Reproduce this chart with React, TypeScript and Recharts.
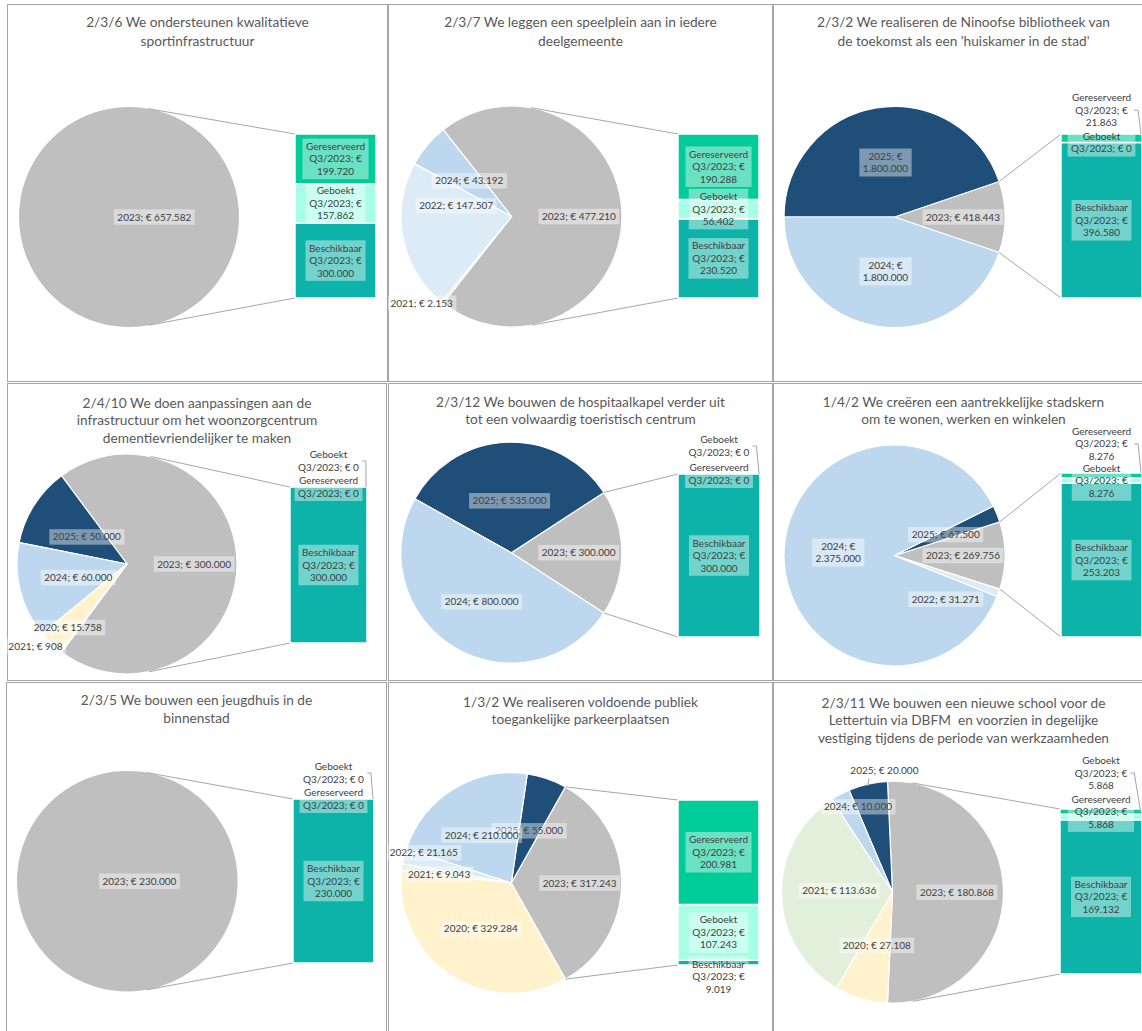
import React from 'react';
import { PieChart, Pie, Cell, BarChart, Bar, XAxis, YAxis, LabelList } from 'recharts';

// ---------------- DATA ----------------
const barSeries = ['Gereserveerd', 'Geboekt', 'Beschikbaar'];
const barPeriod = 'Q3/2023';

const titles: string[][] = [
  ['2/3/6 We ondersteunen kwalitatieve', 'sportinfrastructuur'],
  ['2/3/7 We leggen een speelplein aan in iedere', 'deelgemeente'],
  ['2/3/2 We realiseren de Ninoofse bibliotheek van', "de toekomst als een 'huiskamer in de stad'"],
  ['2/4/10 We doen aanpassingen aan de', 'infrastructuur om het woonzorgcentrum', 'dementievriendelijker te maken'],
  ['2/3/12 We bouwen de hospitaalkapel verder uit', 'tot een volwaardig toeristisch centrum'],
  ['1/4/2 We creëren een aantrekkelijke stadskern', 'om te wonen, werken en winkelen'],
  ['2/3/5 We bouwen een jeugdhuis in de', 'binnenstad'],
  ['1/3/2 We realiseren voldoende publiek', 'toegankelijke parkeerplaatsen'],
  ['2/3/11 We bouwen een nieuwe school voor de', 'Lettertuin via DBFM  en voorzien in degelijke', 'vestiging tijdens de periode van werkzaamheden'],
];

const p1Years = ['2023'];
const p1Values = [657582];
const p1Bar = [199720, 157862, 300000];

const p2Years = ['2023', '2024', '2022', '2021'];
const p2Values = [477210, 43192, 147507, 2153];
const p2Bar = [190288, 56402, 230520];

const p3Years = ['2023', '2025', '2024'];
const p3Values = [418443, 1800000, 1800000];
const p3Bar = [21863, 0, 396580];

const p4Years = ['2023', '2025', '2024', '2020', '2021'];
const p4Values = [300000, 50000, 60000, 15758, 908];
const p4Bar = [0, 0, 300000];

const p5Years = ['2023', '2025', '2024'];
const p5Values = [300000, 535000, 800000];
const p5Bar = [0, 0, 300000];

const p6Years = ['2023', '2025', '2024', '2022'];
const p6Values = [269756, 67500, 2375000, 31271];
const p6Bar = [8276, 8276, 253203];

const p7Years = ['2023'];
const p7Values = [230000];
const p7Bar = [0, 0, 230000];

const p8Years = ['2023', '2025', '2024', '2022', '2021', '2020'];
const p8Values = [317243, 55000, 210000, 21165, 9043, 329284];
const p8Bar = [200981, 107243, 9019];

const p9Years = ['2023', '2025', '2024', '2021', '2020'];
const p9Values = [180868, 20000, 10000, 113636, 27108];
const p9Bar = [5868, 5868, 169132];

// ---------------- STYLE ----------------
const FONT = 'Lato, "Open Sans", sans-serif';
const FS = 10;
const LLH = 12.5;
const TEXT = '#404040';
const YEAR_COLORS: Record<string, string> = {
  '2020': '#FFF2CC',
  '2021': '#E2EFDA',
  '2022': '#DDEBF7',
  '2023': '#BFBFBF',
  '2024': '#BDD7EE',
  '2025': '#1F4E79',
};
const GERES = '#00CC99';
const GEBOEKT = '#A6FFE4';
const BESCH = '#0DB3A9';
const LINE = '#A6A6A6';

type PL = { f: number; a?: number; leader?: boolean };
type BL = { dy?: number; out?: boolean };
interface Layout {
  left: number; top: number; w: number; h: number;
  cx: number; cy: number; r: number;
  barX: number; barW: number; barTop: number; barBottom: number;
  titleY: number; titleLH: number;
  pie: PL[]; bars: BL[];
}

const layouts: Layout[] = [
  { left: 7, top: 4, w: 381, h: 378, cx: 122, cy: 213, r: 110, barX: 288, barW: 81, barTop: 130, barBottom: 294, titleY: 17.7, titleLH: 19,
    pie: [{ f: 0.23 }], bars: [{}, {}, {}] },
  { left: 388, top: 4, w: 385, h: 378, cx: 123.5, cy: 212.5, r: 110.5, barX: 290, barW: 81, barTop: 130, barBottom: 294, titleY: 17.7, titleLH: 19,
    pie: [{ f: 0.61 }, { f: 0.5 }, { f: 0.51, a: 169 }, { f: 1.13, a: 224 }], bars: [{}, {}, {}] },
  { left: 773, top: 4, w: 381, h: 378, cx: 121.5, cy: 213, r: 110.5, barX: 288, barW: 81, barTop: 130, barBottom: 294, titleY: 17.7, titleLH: 19,
    pie: [{ f: 0.62 }, { f: 0.5 }, { f: 0.5 }], bars: [{ dy: -28, out: true }, {}, {}] },
  { left: 7, top: 383, w: 380, h: 298, cx: 120, cy: 181, r: 110, barX: 283, barW: 77, barTop: 104, barBottom: 260, titleY: 19.7, titleLH: 17.3,
    pie: [{ f: 0.61 }, { f: 0.44, a: 146 }, { f: 0.46, a: 195.6 }, { f: 0.79, a: 227 }, { f: 1.12, a: 222 }], bars: [{}, { dy: -26, out: true }, {}] },
  { left: 388, top: 383, w: 385, h: 298, cx: 123.3, cy: 169.7, r: 110.5, barX: 290, barW: 82, barTop: 91, barBottom: 254, titleY: 18.7, titleLH: 17.6,
    pie: [{ f: 0.61 }, { f: 0.47 }, { f: 0.52 }], bars: [{}, { dy: -28, out: true }, {}] },
  { left: 773, top: 383, w: 381, h: 298, cx: 121.5, cy: 172.5, r: 110.5, barX: 288, barW: 81, barTop: 90, barBottom: 254, titleY: 19.7, titleLH: 16.8,
    pie: [{ f: 0.62 }, { f: 0.5 }, { f: 0.51, a: 177 }, { f: 0.61, a: 319.5 }], bars: [{ dy: -31.7, out: true }, {}, {}] },
  { left: 6, top: 682, w: 381, h: 360, cx: 121.3, cy: 199.2, r: 110.3, barX: 287, barW: 81, barTop: 117, barBottom: 281, titleY: 18, titleLH: 17.3,
    pie: [{ f: 0.11 }], bars: [{}, { dy: -26, out: true }, {}] },
  { left: 388, top: 682, w: 385, h: 360, cx: 123.3, cy: 201, r: 110.3, barX: 290, barW: 81, barTop: 118, barBottom: 283, titleY: 19.7, titleLH: 17.6,
    pie: [{ f: 0.62 }, { f: 0.5 }, { f: 0.51 }, { f: 0.84, a: 161 }, { f: 0.66, a: 173 }, { f: 0.5 }], bars: [{}, {}, { dy: 14 }] },
  { left: 773, top: 682, w: 381, h: 360, cx: 119.5, cy: 210.2, r: 111, barX: 287, barW: 82, barTop: 127, barBottom: 292, titleY: 20.7, titleLH: 17.3,
    pie: [{ f: 0.58 }, { f: 1.1, a: 93.8, leader: true }, { f: 0.83, a: 112 }, { f: 0.48, a: 178.6 }, { f: 0.5 }], bars: [{}, { dy: -44, out: true }, {}] },
];

// ---------------- HELPERS ----------------
const DEG = Math.PI / 180;
const fmt = (n: number) => String(Math.round(n)).replace(/\B(?=(\d{3})+(?!\d))/g, '.');

let measureCtx: CanvasRenderingContext2D | null = null;
function measure(s: string): number {
  if (!measureCtx) {
    const c = document.createElement('canvas');
    measureCtx = c.getContext('2d');
  }
  if (!measureCtx) return s.length * FS * 0.52;
  measureCtx.font = `${FS}px Lato`;
  return measureCtx.measureText(s).width;
}

function LabelBox({ x, y, lines }: { x: number; y: number; lines: string[] }) {
  const w = Math.max(...lines.map(measure)) + 7;
  const h = lines.length * LLH + 3;
  const y0 = y - ((lines.length - 1) * LLH) / 2;
  return (
    <g>
      <rect x={x - w / 2} y={y - h / 2} width={w} height={h} fill="#fff" fillOpacity={0.42} />
      {lines.map((l, i) => (
        <text key={i} x={x} y={y0 + i * LLH} dy="0.35em" textAnchor="middle" fontSize={FS} fontFamily={FONT} fill={TEXT}
          style={{ whiteSpace: 'pre' }}>
          {l}
        </text>
      ))}
    </g>
  );
}

function connectors(L: Layout, theta: number) {
  const { cx, cy, r, barX, barTop, barBottom } = L;
  const pt = (a: number) => [cx + r * Math.cos(a * DEG), cy - r * Math.sin(a * DEG)];
  const tangent = (py: number, upper: boolean) => {
    const dx = barX - cx;
    const dy = cy - py;
    const d = Math.hypot(dx, dy);
    const phi = Math.atan2(dy, dx) / DEG;
    const al = Math.acos(Math.min(1, r / d)) / DEG;
    return upper ? phi + al : phi - al;
  };
  const half = theta / 2;
  const aTop = Math.min(half, tangent(barTop, true));
  const aBot = Math.max(-half, tangent(barBottom, false));
  return [
    [pt(aTop), [barX, barTop]],
    [pt(aBot), [barX, barBottom]],
  ];
}

function barLines(idx: number, v: number) {
  const name = barSeries[idx];
  return v === 0 ? [name, `${barPeriod}; € 0`] : [name, `${barPeriod}; €`, fmt(v)];
}

function SegLabel({ idx, v, cfg, x, w, top, bottom }: { idx: number; v: number; cfg: BL; x: number; w: number; top: number; bottom: number }) {
  const lx = x + w / 2;
  const ly = (top + bottom) / 2 + (cfg.dy ?? 0);
  const lines = barLines(idx, v);
  let leader = null;
  if (cfg.out) {
    const tw = Math.max(...lines.map(measure));
    const sx = lx + tw / 2 + 3;
    const mx = Math.min(sx + 4, x + w - 1);
    leader = <path d={`M${sx},${ly} L${mx},${ly} L${x + w - 1},${top}`} fill="none" stroke={LINE} strokeWidth={1} />;
  }
  return (
    <g>
      {leader}
      <LabelBox x={lx} y={ly} lines={lines} />
    </g>
  );
}

// All three segment labels are laid out from the Beschikbaar rectangle that the
// library computed (its pixel height / value gives the scale of the stack).
const makeStackLabels = (bar: number[], cfgs: BL[]) => (props: any) => {
  const vb = props.viewBox && props.viewBox.width != null ? props.viewBox : props;
  const x = Number(vb.x);
  const y = Number(vb.y);
  const w = Number(vb.width);
  const h = Number(vb.height) || 0;
  const bTop = Math.min(y, y + h);
  const bBot = Math.max(y, y + h);
  const k = (bBot - bTop) / bar[2];
  const gebTop = bTop - bar[1] * k;
  const gerTop = gebTop - bar[0] * k;
  return (
    <g>
      <SegLabel idx={2} v={bar[2]} cfg={cfgs[2]} x={x} w={w} top={bTop} bottom={bBot} />
      <SegLabel idx={1} v={bar[1]} cfg={cfgs[1]} x={x} w={w} top={gebTop} bottom={bTop} />
      <SegLabel idx={0} v={bar[0]} cfg={cfgs[0]} x={x} w={w} top={gerTop} bottom={gebTop} />
    </g>
  );
};

function Panel({ L, title, years, values, bar }: { L: Layout; title: string[]; years: string[]; values: number[]; bar: number[] }) {
  const pieTotal = values.reduce((a, b) => a + b, 0);
  const theta = (360 * values[0]) / pieTotal;
  const start = -theta / 2;
  const pieData = years.map((y, i) => ({ year: y, value: values[i] }));
  const barTotal = bar.reduce((a, b) => a + b, 0);
  const row = [{ k: 'q', besch: bar[2], geboekt: bar[1], geres: bar[0] }];
  const margin = { top: L.barTop, bottom: L.h - L.barBottom, left: L.barX, right: L.w - L.barX - L.barW };
  const lines = connectors(L, theta);
  const single = values.length === 1;

  const pieLabel = (props: any) => {
    const { cx, cy, midAngle, outerRadius, index } = props;
    const cfg = L.pie[index] ?? { f: 0.5 };
    const ang = cfg.a ?? midAngle;
    const x = cx + cfg.f * outerRadius * Math.cos(-ang * DEG);
    const y = cy + cfg.f * outerRadius * Math.sin(-ang * DEG);
    const v = values[index];
    const yr = years[index];
    const lbl = v >= 1e6 ? [`${yr}; €`, fmt(v)] : [`${yr}; € ${fmt(v)}`];
    let leader = null;
    if (cfg.leader) {
      const px = cx + outerRadius * Math.cos(-midAngle * DEG);
      const py = cy + outerRadius * Math.sin(-midAngle * DEG);
      const by = y + (lbl.length * LLH) / 2 + 2;
      leader = <line x1={px + 1} y1={by} x2={px} y2={py + 2} stroke={LINE} strokeWidth={1} />;
    }
    return (
      <g key={`pl-${index}`}>
        {leader}
        <LabelBox x={x} y={y} lines={lbl} />
      </g>
    );
  };

  const bars = (withFill: boolean) => (
    <BarChart width={L.w} height={L.h} data={row} margin={margin} barCategoryGap={0} barGap={0}>
      <XAxis dataKey="k" hide />
      <YAxis hide type="number" domain={[0, barTotal]} allowDataOverflow />
      <Bar dataKey="besch" stackId="s" fill={withFill ? BESCH : 'none'} stroke={withFill ? '#fff' : 'none'} strokeWidth={1.5} isAnimationActive={false}>
        {!withFill && <LabelList dataKey="besch" content={makeStackLabels(bar, L.bars)} />}
      </Bar>
      <Bar dataKey="geboekt" stackId="s" fill={withFill ? GEBOEKT : 'none'} stroke={withFill ? '#fff' : 'none'} strokeWidth={1.5} isAnimationActive={false} />
      <Bar dataKey="geres" stackId="s" fill={withFill ? GERES : 'none'} stroke={withFill ? '#fff' : 'none'} strokeWidth={1.5} isAnimationActive={false} />
    </BarChart>
  );

  const abs: React.CSSProperties = { position: 'absolute', left: 0, top: 0 };
  return (
    <div style={{ position: 'absolute', left: L.left, top: L.top, width: L.w, height: L.h, border: `1px solid ${LINE}`, boxSizing: 'border-box', background: '#fff' }}>
      <div style={{ position: 'absolute', left: -1, top: -1, width: L.w, height: L.h }}>
        <div style={{ ...abs, width: L.w, top: L.titleY - L.titleLH / 2, textAlign: 'center', fontFamily: FONT, fontSize: 13.7, lineHeight: `${L.titleLH}px`, color: '#595959', whiteSpace: 'pre' }}>
          {title.map((t, i) => (
            <div key={i}>{t}</div>
          ))}
        </div>
        <div style={abs}>
          <PieChart width={L.w} height={L.h} margin={{ top: 0, right: 0, bottom: 0, left: 0 }}>
            <Pie data={pieData} dataKey="value" nameKey="year" cx={L.cx} cy={L.cy} outerRadius={L.r} innerRadius={0}
              startAngle={start} endAngle={start + 360} stroke="#fff" strokeWidth={single ? 0 : 1.2}
              isAnimationActive={false} label={pieLabel} labelLine={false}>
              {pieData.map((d) => (
                <Cell key={d.year} fill={YEAR_COLORS[d.year]} />
              ))}
            </Pie>
          </PieChart>
        </div>
        <svg style={{ ...abs, pointerEvents: 'none' }} width={L.w} height={L.h}>
          {lines.map((ln, i) => (
            <line key={i} x1={ln[0][0]} y1={ln[0][1]} x2={ln[1][0]} y2={ln[1][1]} stroke={LINE} strokeWidth={1} />
          ))}
        </svg>
        <div style={abs}>{bars(true)}</div>
        <div style={abs}>{bars(false)}</div>
      </div>
    </div>
  );
}

const panelData = [
  { years: p1Years, values: p1Values, bar: p1Bar },
  { years: p2Years, values: p2Values, bar: p2Bar },
  { years: p3Years, values: p3Values, bar: p3Bar },
  { years: p4Years, values: p4Values, bar: p4Bar },
  { years: p5Years, values: p5Values, bar: p5Bar },
  { years: p6Years, values: p6Values, bar: p6Bar },
  { years: p7Years, values: p7Values, bar: p7Bar },
  { years: p8Years, values: p8Values, bar: p8Bar },
  { years: p9Years, values: p9Values, bar: p9Bar },
];

export default function App() {
  return (
    <div style={{ position: 'absolute', left: 0, top: 0, width: 1142, height: 1031, overflow: 'hidden', background: '#fff', fontFamily: FONT }}>
      {panelData.map((p, i) => (
        <Panel key={i} L={layouts[i]} title={titles[i]} years={p.years} values={p.values} bar={p.bar} />
      ))}
    </div>
  );
}
